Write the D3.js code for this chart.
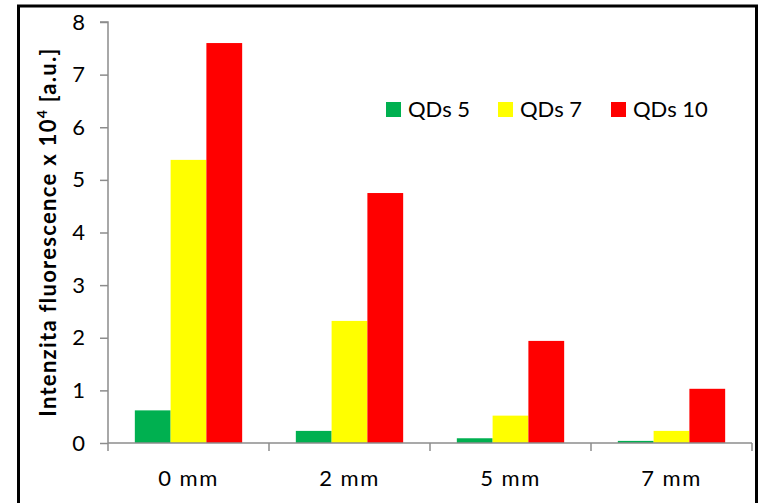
<!DOCTYPE html>
<html><head><meta charset="utf-8">
<script src="https://cdn.jsdelivr.net/npm/d3@7"></script>
<style>body{margin:0;background:#fff}svg{display:block}</style>
</head><body><svg id="c" width="763" height="503"></svg>
<script>
const categories = ["0 mm", "2 mm", "5 mm", "7 mm"];
const seriesNames = ["QDs 5", "QDs 7", "QDs 10"];
const qds5 = [0.62, 0.23, 0.09, 0.04];
const qds7 = [5.38, 2.32, 0.52, 0.23];
const qds10 = [7.6, 4.75, 1.94, 1.03];
const yTicks = [0, 1, 2, 3, 4, 5, 6, 7, 8];
const colors = ["#00B050", "#FFFF00", "#FF0000"];
const seriesValues = [qds5, qds7, qds10];

const svg = d3.select("#c");
const font = "Lato, 'Open Sans', sans-serif";
const pLeft = 108, pRight = 752, pTop = 22, pBottom = 443;

svg.append("rect").attr("x", 18.5).attr("y", 6).attr("width", 738).attr("height", 530)
  .attr("fill", "#fff").attr("stroke", "#000").attr("stroke-width", 3);

const x = d3.scaleBand().domain(categories).range([pLeft, pRight]).paddingInner(0).paddingOuter(0);
const xs = d3.scaleBand().domain(seriesNames).range([0, x.bandwidth()]).paddingInner(0).paddingOuter(0.75);
const y = d3.scaleLinear().domain([0, 8]).range([pBottom, pTop]);

// bars
seriesNames.forEach((s, si) => {
  svg.append("g").selectAll("rect").data(categories).join("rect")
    .attr("x", d => x(d) + xs(s))
    .attr("width", xs.bandwidth())
    .attr("y", (d, i) => y(seriesValues[si][i]))
    .attr("height", (d, i) => y(0) - y(seriesValues[si][i]))
    .attr("fill", colors[si]);
});

const axisColor = "#8c8c8c";
// y axis
const ya = svg.append("g").attr("transform", `translate(${pLeft},0)`)
  .call(d3.axisLeft(y).tickValues(yTicks).tickSize(8).tickPadding(15).tickFormat(d3.format("d")));
ya.select(".domain").attr("stroke", axisColor).attr("stroke-width", 1.5).attr("d", `M-8,${pTop}H0V${pBottom}`);
ya.selectAll(".tick line").attr("stroke", axisColor).attr("stroke-width", 1.5);
ya.selectAll(".tick text").attr("font-family", font).attr("font-size", 22).attr("fill", "#000");

// x axis
const xa = svg.append("g").attr("transform", `translate(0,${pBottom})`)
  .call(d3.axisBottom(x).tickSize(0).tickPadding(27));
xa.select(".domain").attr("stroke", axisColor).attr("stroke-width", 1.5).attr("d", `M${pLeft},0H${pRight}`);
xa.selectAll(".tick text").attr("font-family", font).attr("font-size", 22).attr("letter-spacing", 1.5).attr("fill", "#000");
const bounds = categories.map(c => x(c)).concat([pRight]);
svg.append("g").selectAll("line").data(bounds).join("line")
  .attr("x1", d => d).attr("x2", d => d).attr("y1", pBottom).attr("y2", pBottom + 8)
  .attr("stroke", axisColor).attr("stroke-width", 1.5);

// y title
const yt = svg.append("text").attr("transform", `translate(56,232) rotate(-90)`)
  .attr("text-anchor", "middle").attr("font-family", font).attr("font-weight", "bold")
  .attr("font-size", 22).attr("letter-spacing", 1.3).attr("fill", "#000");
yt.append("tspan").text("Intenzita fluorescence x 10");
yt.append("tspan").attr("dy", -9).attr("font-size", 14).text("4");
yt.append("tspan").attr("dy", 9).text(" [a.u.]");

// legend
const legX = [386, 498, 611];
const lg = svg.append("g").selectAll("g").data(seriesNames).join("g")
  .attr("transform", (d, i) => `translate(${legX[i]},102)`);
lg.append("rect").attr("width", 15).attr("height", 15).attr("fill", (d, i) => colors[i]);
lg.append("text").attr("x", 22).attr("y", 15).attr("font-family", font).attr("font-size", 22)
  .attr("fill", "#000").text(d => d);
</script></body></html>
